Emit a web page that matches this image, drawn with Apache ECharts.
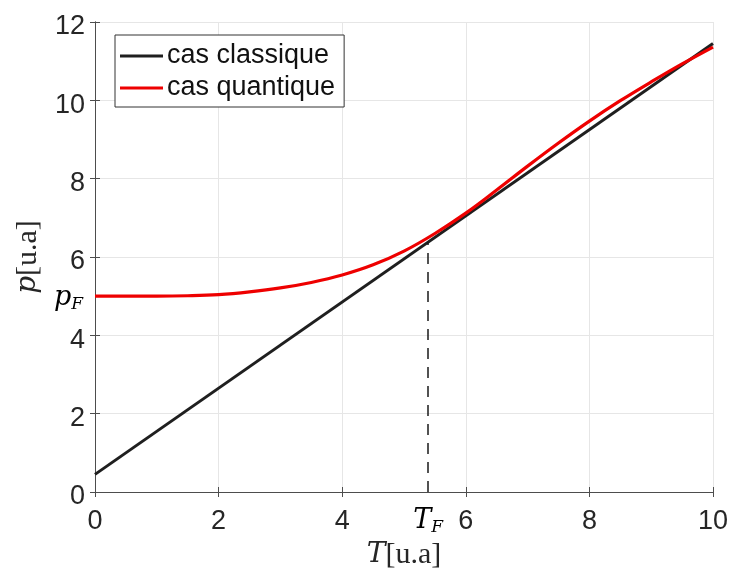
<!DOCTYPE html>
<html>
<head>
<meta charset="utf-8">
<script src="https://cdn.jsdelivr.net/npm/echarts@6/dist/echarts.min.js"></script>
<style>
  html, body { margin: 0; padding: 0; background: #fff; }
  #chart { width: 733px; height: 571px; }
</style>
</head>
<body>
<div id="chart"></div>
<script>
// cas classique : droite
const classT = [0, 10];
const classP = [0.45, 11.45];
// cas quantique
const quantT = [0, 0.5, 1, 1.5, 2, 2.5, 3, 3.5, 4, 4.5, 5, 5.5, 6, 6.5, 7, 7.5, 8, 8.5, 9, 9.5, 10];
const quantP = [5.0, 5.0, 5.0, 5.01, 5.04, 5.11, 5.21, 5.35, 5.54, 5.8, 6.15, 6.6, 7.12, 7.71, 8.32, 8.91, 9.47, 9.99, 10.47, 10.93, 11.36];
// repères de Fermi
const TF = 5.39;
const pTF = 6.38;
const pF = 5;

const tickFont = 'Liberation Sans';
const serif = 'DejaVu Serif';
const axisColor = '#4d4d4d';

const chart = echarts.init(document.getElementById('chart'));

const nameRich = {
  i: { fontFamily: serif, fontStyle: 'italic', fontSize: 28, color: '#262626' },
  n: { fontFamily: 'Liberation Serif', fontSize: 30, color: '#262626' }
};

const tickStyle = { show: true, inside: true, length: 5, lineStyle: { color: axisColor, width: 1 } };

chart.setOption({
  animation: false,
  backgroundColor: '#fff',
  grid: { left: 95, right: 20, top: 22, bottom: 79, containLabel: false, outerBoundsMode: 'none' },
  legend: {
    orient: 'vertical',
    left: 115,
    top: 35,
    backgroundColor: '#fff',
    borderColor: '#333',
    borderWidth: 1,
    borderRadius: 0,
    padding: [6, 9, 4, 5],
    itemGap: 2,
    itemWidth: 43,
    itemHeight: 3,
    icon: 'rect',
    textStyle: { fontFamily: tickFont, fontSize: 27, color: '#111', padding: [0, 0, 0, -1], lineHeight: 30 },
    data: ['cas classique', 'cas quantique']
  },
  xAxis: [
    {
      type: 'value', min: 0, max: 10, interval: 2,
      axisLine: { show: true, onZero: false, lineStyle: { color: axisColor, width: 1 } },
      axisTick: tickStyle,
      splitLine: { show: true, lineStyle: { color: '#e6e6e6', width: 1 } },
      axisLabel: { color: '#262626', fontFamily: tickFont, fontSize: 27, margin: 16 },
      name: '{i|T}{n|[u.a]}',
      nameLocation: 'middle',
      nameGap: 48,
      nameTextStyle: { rich: nameRich }
    },
    {
      type: 'value', min: 0, max: 10, interval: 2, position: 'top',
      axisLine: { show: true, lineStyle: { color: axisColor } },
      axisTick: tickStyle,
      axisLabel: { show: false }, splitLine: { show: false }
    }
  ],
  yAxis: [
    {
      type: 'value', min: 0, max: 12, interval: 2,
      axisLine: { show: true, onZero: false, lineStyle: { color: axisColor, width: 1 } },
      axisTick: tickStyle,
      splitLine: { show: true, lineStyle: { color: '#e6e6e6', width: 1 } },
      axisLabel: {
        margin: 10,
        formatter: '{v|{value}}',
        rich: { v: { color: '#262626', fontFamily: tickFont, fontSize: 27, padding: [10, 0, 0, 0] } }
      },
      name: '{i|p}{n|[u.a]}',
      nameLocation: 'middle',
      nameRotate: 90,
      nameGap: 52,
      nameTextStyle: { rich: nameRich }
    },
    {
      type: 'value', min: 0, max: 12, interval: 2, position: 'right',
      axisLine: { show: true, lineStyle: { color: axisColor } },
      axisTick: tickStyle,
      axisLabel: { show: false }, splitLine: { show: false }
    }
  ],
  series: [
    {
      name: 'cas classique',
      type: 'line',
      showSymbol: false,
      color: '#1f1f1f',
      lineStyle: { color: '#1f1f1f', width: 3 },
      data: classT.map((t, i) => [t, classP[i]]),
      markLine: {
        silent: true,
        symbol: 'none',
        lineStyle: { color: '#1a1a1a', type: [11, 8], width: 1.5 },
        label: { show: false },
        data: [[{ coord: [TF, 0] }, { coord: [TF, pTF] }]]
      },
      z: 3
    },
    {
      name: 'cas quantique',
      type: 'line',
      showSymbol: false,
      smooth: 0.4,
      color: '#ee0000',
      lineStyle: { color: '#ee0000', width: 3.2 },
      data: quantT.map((t, i) => [t, quantP[i]]),
      z: 4
    }
  ]
});

// étiquettes T_F et p_F placées via les échelles
const subRich = {
  i: { fontFamily: serif, fontStyle: 'italic', fontSize: 27, color: '#262626' },
  s: { fontFamily: serif, fontStyle: 'italic', fontSize: 17, color: '#262626', padding: [13, 0, 0, 0] }
};
const tfPix = chart.convertToPixel({ xAxisIndex: 0 }, TF);
const pfPix = chart.convertToPixel({ yAxisIndex: 0 }, pF);
const axisY = chart.convertToPixel({ yAxisIndex: 0 }, 0);
const axisX = chart.convertToPixel({ xAxisIndex: 0 }, 0);
chart.setOption({
  graphic: [
    {
      type: 'text', x: tfPix, y: axisY + 29,
      style: { text: '{i|T}{s|F}', rich: subRich, align: 'center', verticalAlign: 'middle' }
    },
    {
      type: 'text', x: axisX - 12, y: pfPix + 2,
      style: { text: '{i|p}{s|F}', rich: subRich, align: 'right', verticalAlign: 'middle' }
    }
  ]
});
</script>
</body>
</html>
